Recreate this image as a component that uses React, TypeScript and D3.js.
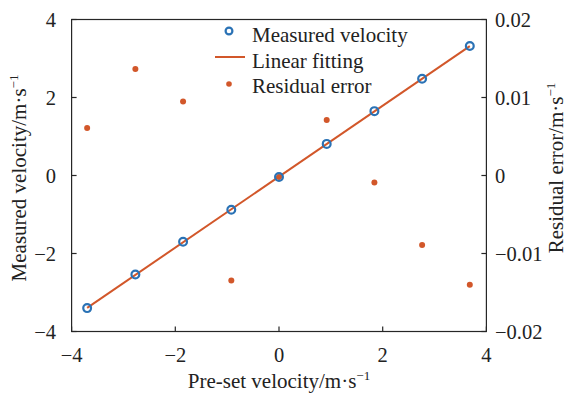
import React from "react";
import * as d3 from "d3";

const presetVelocity = [-3.7, -2.77, -1.85, -0.92, 0, 0.92, 1.84, 2.76, 3.68];
const measuredVelocity = [-3.4, -2.54, -1.7, -0.88, -0.04, 0.81, 1.65, 2.48, 3.32];
const residualError = [0.0061, 0.01365, 0.0095, -0.01345, -0.0002, 0.0071, -0.0009, -0.0089, -0.014];
const xTicks = [-4, -2, 0, 2, 4];
const yTicks = [-4, -2, 0, 2, 4];
const y2Ticks = [-0.02, -0.01, 0, 0.01, 0.02];
const legendLabels = ["Measured velocity", "Linear fitting", "Residual error"];

const W = 567;
const H = 393;
const left = 71.6;
const right = 486.4;
const top = 19.5;
const bottom = 331.5;
const BLUE = "#2a72b5";
const ORANGE = "#d2572a";
const AXIS = "#262626";
const FONT = "'Liberation Serif', 'Times New Roman', serif";

const fmtTick = (v: number) => (v < 0 ? "\u2212" + String(Math.abs(v)) : String(v));

export default function App() {
  const x = d3.scaleLinear().domain([-4, 4]).range([left, right]);
  const y = d3.scaleLinear().domain([-4, 4]).range([bottom, top]);
  const y2 = d3.scaleLinear().domain([-0.02, 0.02]).range([bottom, top]);

  const n = presetVelocity.length;
  const mx = d3.mean(presetVelocity) as number;
  const my = d3.mean(measuredVelocity) as number;
  let sxy = 0;
  let sxx = 0;
  for (let i = 0; i < n; i++) {
    sxy += (presetVelocity[i] - mx) * (measuredVelocity[i] - my);
    sxx += (presetVelocity[i] - mx) ** 2;
  }
  const slope = sxy / sxx;
  const icpt = my - slope * mx;
  const x0 = d3.min(presetVelocity) as number;
  const x1 = d3.max(presetVelocity) as number;
  const line = d3.line<number>().x((d) => x(d)).y((d) => y(slope * d + icpt));

  const tick = 5;
  const fs = 20.5;
  const lfs = 21;

  return (
    <svg width={W} height={H} style={{ position: "absolute", left: 0, top: 0, background: "#fff" }} fontFamily={FONT}>
      <rect x={0} y={0} width={W} height={H} fill="#fff" />
      {/* residuals */}
      {residualError.map((r, i) => (
        <circle key={"r" + i} cx={x(presetVelocity[i])} cy={y2(r)} r={3} fill={ORANGE} />
      ))}
      {/* fit line */}
      <path d={line([x0, x1]) || ""} fill="none" stroke={ORANGE} strokeWidth={2} />
      {/* measured */}
      {measuredVelocity.map((m, i) => (
        <circle key={"m" + i} cx={x(presetVelocity[i])} cy={y(m)} r={3.9} fill="none" stroke={BLUE} strokeWidth={2.2} />
      ))}
      {/* frame */}
      <rect x={left} y={top} width={right - left} height={bottom - top} fill="none" stroke={AXIS} strokeWidth={1.2} />
      {xTicks.map((t) => (
        <g key={"xt" + t}>
          <line x1={x(t)} x2={x(t)} y1={bottom} y2={bottom - tick} stroke={AXIS} strokeWidth={1.2} />
          <text x={x(t)} y={362} textAnchor="middle" fontSize={fs} fill="#222">{fmtTick(t)}</text>
        </g>
      ))}
      {yTicks.map((t) => (
        <g key={"yt" + t}>
          <line x1={left} x2={left + tick} y1={y(t)} y2={y(t)} stroke={AXIS} strokeWidth={1.2} />
          <text x={56} y={y(t)} dy="0.35em" textAnchor="end" fontSize={fs} fill="#222">{fmtTick(t)}</text>
        </g>
      ))}
      {y2Ticks.map((t) => (
        <g key={"y2t" + t}>
          <line x1={right} x2={right - tick} y1={y2(t)} y2={y2(t)} stroke={AXIS} strokeWidth={1.2} />
          <text x={495} y={y2(t)} dy="0.35em" textAnchor="start" fontSize={fs} fill="#222">{fmtTick(t)}</text>
        </g>
      ))}
      {/* axis labels */}
      <text x={(left + right) / 2} y={388} textAnchor="middle" fontSize={lfs} fill="#222">
        Pre-set velocity/m·s<tspan dy={-8} fontSize={13}>{"\u22121"}</tspan>
      </text>
      <text transform={`translate(26,178) rotate(-90)`} textAnchor="middle" fontSize={lfs} fill="#222">
        Measured velocity/m·s<tspan dy={-8} fontSize={13}>{"\u22121"}</tspan>
      </text>
      <text transform={`translate(563,168) rotate(-90)`} textAnchor="middle" fontSize={lfs} fill="#222">
        Residual error/m·s<tspan dy={-8} fontSize={13}>{"\u22121"}</tspan>
      </text>
      {/* legend */}
      <circle cx={229} cy={31} r={3.4} fill="none" stroke={BLUE} strokeWidth={2.2} />
      <line x1={215} x2={245} y1={57} y2={57} stroke={ORANGE} strokeWidth={2} />
      <circle cx={229} cy={84} r={2.8} fill={ORANGE} />
      {legendLabels.map((l, i) => (
        <text key={l} x={252} y={42 + i * 25.5} fontSize={lfs} fill="#222">{l}</text>
      ))}
    </svg>
  );
}
